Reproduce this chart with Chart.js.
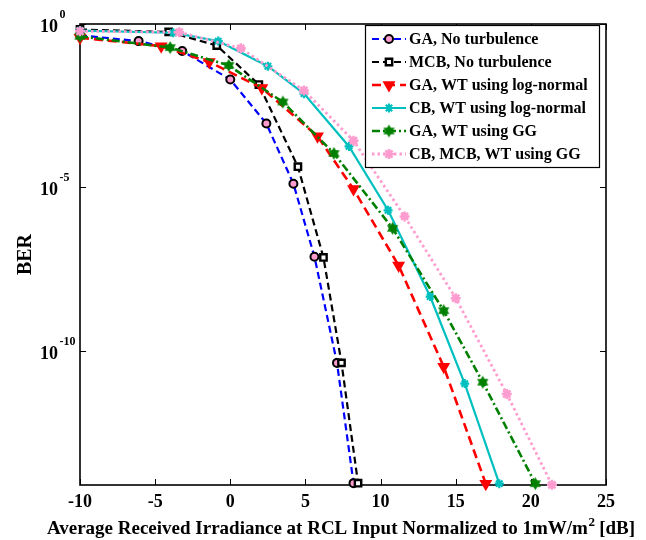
<!DOCTYPE html>
<html>
<head>
<meta charset="utf-8">
<script src="https://cdn.jsdelivr.net/npm/chart.js@4"></script>
<style>
  html, body { margin: 0; padding: 0; background: #fff; }
  canvas { display: block; }
</style>
</head>
<body>
<canvas id="berChart" width="646" height="540"></canvas>
<script>
// average received irradiance [dB] and bit error rate for each scheme
var gaNoTurbX   = [-10, -6.1, -3.2, 0.0, 2.4, 4.2, 5.6, 7.1, 8.2];
var gaNoTurbBer = [4.5e-1, 3.0e-1, 1.5e-1, 2.0e-2, 9.0e-4, 1.3e-5, 7.6e-8, 4.3e-11, 9.0e-15];

var mcbNoTurbX   = [-10, -4.1, -0.9, 1.9, 4.5, 6.2, 7.4, 8.5];
var mcbNoTurbBer = [6.8e-1, 5.7e-1, 2.2e-1, 1.4e-2, 4.3e-5, 7.2e-8, 4.3e-11, 9.0e-15];

var gaLogNormX   = [-10, -4.6, -1.4, 2.1, 5.8, 8.2, 11.2, 14.2, 17.0];
var gaLogNormBer = [3.8e-1, 2.1e-1, 6.9e-2, 1.1e-2, 3.7e-4, 8.9e-6, 4.1e-8, 3.3e-11, 8.7e-15];

var cbLogNormX   = [-10, -3.8, -0.8, 2.5, 4.9, 7.9, 10.5, 13.3, 15.6, 17.9];
var cbLogNormBer = [6.3e-1, 5.4e-1, 3.0e-1, 5.1e-2, 7.4e-3, 1.8e-4, 2.0e-6, 4.6e-9, 1.0e-11, 8.7e-15];

var gaGGX   = [-10, -4.0, -0.1, 3.5, 6.9, 10.8, 14.2, 16.8, 20.3];
var gaGGBer = [4.2e-1, 1.9e-1, 5.4e-2, 4.1e-3, 1.1e-4, 5.6e-7, 1.7e-9, 1.1e-11, 8.7e-15];

var cbMcbGGX   = [-10, -3.4, 0.7, 4.9, 8.2, 11.6, 15.0, 18.4, 21.4];
var cbMcbGGBer = [6.0e-1, 5.6e-1, 1.8e-1, 9.3e-3, 2.7e-4, 1.3e-6, 4.1e-9, 4.8e-12, 8.0e-15];

var seriesNames = [
  'GA, No turbulence',
  'MCB, No turbulence',
  'GA, WT using log-normal',
  'CB, WT using log-normal',
  'GA, WT using GG',
  'CB, MCB, WT using GG'
];

var xTicks = [-10, -5, 0, 5, 10, 15, 20, 25];
var yTickExp = [0, -5, -10];

var serif = '"Liberation Serif", "Times New Roman", serif';

function pts(xs, ys) {
  return xs.map(function (x, i) { return { x: x, y: ys[i] }; });
}

// filled six-point star, used as the GG marker
function hexagram(color, r) {
  var s = Math.ceil(r * 2 + 2);
  var c = document.createElement('canvas');
  c.width = s; c.height = s;
  var g = c.getContext('2d');
  g.fillStyle = color;
  for (var k = 0; k < 2; k++) {
    g.beginPath();
    for (var i = 0; i < 3; i++) {
      var a = -Math.PI / 2 + k * Math.PI + i * 2 * Math.PI / 3;
      g.lineTo(s / 2 + r * Math.cos(a), s / 2 + r * Math.sin(a));
    }
    g.closePath();
    g.fill();
  }
  return c;
}

var pink = '#ff9ccf';

var datasets = [
  { data: pts(gaNoTurbX, gaNoTurbBer), borderColor: '#0000ff', borderDash: [7, 4], borderWidth: 2.2,
    pointStyle: 'circle', pointRadius: 4, pointBorderWidth: 2, pointBorderColor: '#000', pointBackgroundColor: pink },
  { data: pts(mcbNoTurbX, mcbNoTurbBer), borderColor: '#000000', borderDash: [7, 4], borderWidth: 2.2,
    pointStyle: 'rect', pointRadius: 4.5, pointBorderWidth: 2.4, pointBorderColor: '#000', pointBackgroundColor: '#ffffff' },
  { data: pts(gaLogNormX, gaLogNormBer), borderColor: '#ff0000', borderDash: [9, 5], borderWidth: 2.6,
    pointStyle: 'triangle', pointRotation: 180, pointRadius: 6, pointBorderWidth: 1.5, pointBorderColor: '#ff0000', pointBackgroundColor: '#ff0000' },
  { data: pts(cbLogNormX, cbLogNormBer), borderColor: '#00bfbf', borderWidth: 2.2,
    pointStyle: 'star', pointRadius: 4.5, pointBorderWidth: 2.2, pointBorderColor: '#00bfbf', pointBackgroundColor: '#00bfbf' },
  { data: pts(gaGGX, gaGGBer), borderColor: '#008000', borderDash: [8, 3, 2, 3], borderWidth: 2.6,
    pointStyle: hexagram('#008000', 6.5), pointRadius: 6, pointBorderColor: '#008000', pointBackgroundColor: '#008000' },
  { data: pts(cbMcbGGX, cbMcbGGBer), borderColor: pink, borderDash: [2.5, 3], borderWidth: 2.8,
    pointStyle: 'star', pointRadius: 5, pointBorderWidth: 2.5, pointBorderColor: pink, pointBackgroundColor: pink }
];

datasets.forEach(function (d, i) {
  d.label = seriesNames[i];
  d.fill = false;
  d.tension = 0;
  d.clip = false;
  d.order = datasets.length - 1 - i;
});

function marker(ctx, ds, x, y) {
  ctx.save();
  ctx.fillStyle = ds.pointBackgroundColor;
  ctx.strokeStyle = ds.pointBorderColor;
  ctx.lineWidth = ds.pointBorderWidth || 1;
  ctx.setLineDash([]);
  Chart.helpers.drawPoint(ctx, {
    pointStyle: ds.pointStyle, rotation: ds.pointRotation || 0,
    radius: ds.pointRadius, borderWidth: ds.pointBorderWidth || 1
  }, x, y);
  ctx.restore();
}

// boxed axes with inward ticks, labels with superscripts, and an inset legend
var boxAxes = {
  id: 'boxAxes',
  beforeDatasetsDraw: function (chart) {
    var a = chart.chartArea, ctx = chart.ctx;
    var xs = chart.scales.x, ys = chart.scales.y;
    ctx.save();
    ctx.strokeStyle = '#000';
    ctx.lineWidth = 1;
    xTicks.forEach(function (v) {
      var px = Math.round(xs.getPixelForValue(v)) + 0.5;
      ctx.beginPath();
      ctx.moveTo(px, a.bottom); ctx.lineTo(px, a.bottom - 6);
      ctx.moveTo(px, a.top); ctx.lineTo(px, a.top + 6);
      ctx.stroke();
    });
    yTickExp.forEach(function (e) {
      var py = Math.round(ys.getPixelForValue(Math.pow(10, e))) + 0.5;
      ctx.beginPath();
      ctx.moveTo(a.left, py); ctx.lineTo(a.left + 6, py);
      ctx.moveTo(a.right, py); ctx.lineTo(a.right - 6, py);
      ctx.stroke();
    });
    ctx.lineWidth = 1.6;
    ctx.strokeRect(a.left, a.top, a.right - a.left, a.bottom - a.top);
    ctx.restore();
  },
  afterDraw: function (chart) {
    var a = chart.chartArea, ctx = chart.ctx;
    var xs = chart.scales.x, ys = chart.scales.y;
    ctx.save();
    ctx.fillStyle = '#000';

    // x tick labels
    ctx.font = 'bold 18px ' + serif;
    ctx.textAlign = 'center';
    ctx.textBaseline = 'alphabetic';
    xTicks.forEach(function (v) {
      ctx.fillText(String(v), xs.getPixelForValue(v), a.bottom + 22);
    });

    // y tick labels as 10^n
    yTickExp.forEach(function (e) {
      var py = ys.getPixelForValue(Math.pow(10, e));
      ctx.font = 'bold 18px ' + serif;
      ctx.textAlign = 'right';
      ctx.fillText('10', 58, py + 8);
      ctx.font = 'bold 12px ' + serif;
      ctx.textAlign = 'left';
      ctx.fillText(String(e), 59.5, py - 6);
    });

    // axis titles
    ctx.font = 'bold 20px ' + serif;
    ctx.textAlign = 'center';
    ctx.save();
    ctx.translate(31, (a.top + a.bottom) / 2);
    ctx.rotate(-Math.PI / 2);
    ctx.fillText('BER', 0, 0);
    ctx.restore();

    var t1 = 'Average Received Irradiance at RCL Input Normalized to 1mW/m';
    var t2 = '2';
    var t3 = ' [dB]';
    ctx.font = 'bold 19px ' + serif;
    var w1 = ctx.measureText(t1).width, w3 = ctx.measureText(t3).width;
    ctx.font = 'bold 13px ' + serif;
    var w2 = ctx.measureText(t2).width;
    var x0 = (a.left + a.right) / 2 - 2 - (w1 + w2 + w3) / 2;
    var base = a.bottom + 49;
    ctx.textAlign = 'left';
    ctx.font = 'bold 19px ' + serif;
    ctx.fillText(t1, x0, base);
    ctx.fillText(t3, x0 + w1 + w2, base);
    ctx.font = 'bold 13px ' + serif;
    ctx.fillText(t2, x0 + w1 + 0.5, base - 8);

    // legend
    var lx = 365, ly = 25, lw = 234, lh = 142;
    ctx.fillStyle = '#fff';
    ctx.fillRect(lx, ly, lw, lh);
    ctx.strokeStyle = '#000';
    ctx.lineWidth = 1.2;
    ctx.strokeRect(lx + 0.5, ly + 0.5, lw, lh);
    ctx.font = 'bold 16px ' + serif;
    ctx.textAlign = 'left';
    ctx.textBaseline = 'middle';
    chart.data.datasets.forEach(function (ds, i) {
      var y = 39 + i * 23;
      ctx.save();
      ctx.strokeStyle = ds.borderColor;
      ctx.lineWidth = ds.borderWidth;
      ctx.setLineDash(ds.borderDash || []);
      ctx.beginPath();
      ctx.moveTo(372, y); ctx.lineTo(406, y);
      ctx.stroke();
      ctx.restore();
      marker(ctx, ds, 389, y);
      ctx.fillStyle = '#000';
      ctx.fillText(ds.label, 409, y + 1);
    });
    ctx.restore();
  }
};

new Chart(document.getElementById('berChart').getContext('2d'), {
  type: 'line',
  data: { datasets: datasets },
  options: {
    responsive: false,
    animation: false,
    events: [],
    layout: { padding: { top: 24, right: 40, left: 0, bottom: 0 } },
    plugins: { legend: { display: false }, tooltip: { enabled: false } },
    scales: {
      x: {
        type: 'linear', min: -10, max: 25,
        grid: { display: false }, border: { display: false },
        ticks: { display: false },
        afterFit: function (s) { s.height = 55; }
      },
      y: {
        type: 'logarithmic', min: 7.9e-15, max: 1,
        grid: { display: false }, border: { display: false },
        ticks: { display: false },
        afterFit: function (s) { s.width = 80; }
      }
    }
  },
  plugins: [boxAxes]
});
</script>
</body>
</html>
